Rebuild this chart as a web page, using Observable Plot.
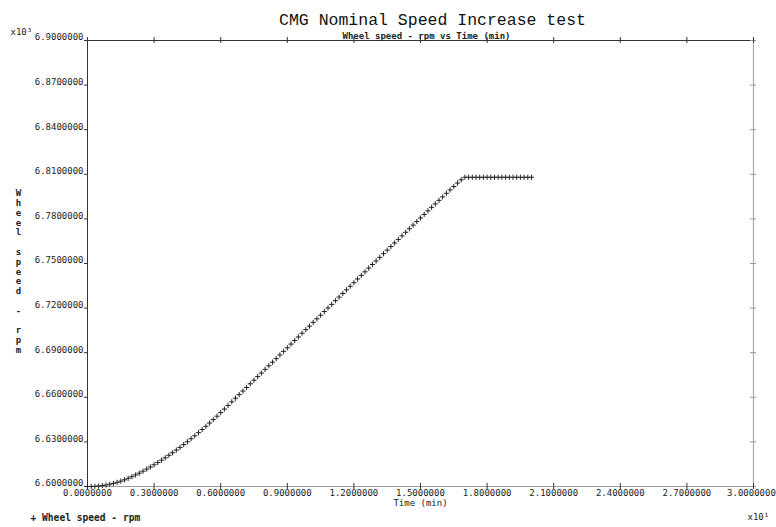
<!DOCTYPE html>
<html><head><meta charset="utf-8">
<script src="https://cdn.jsdelivr.net/npm/d3@7"></script>
<script src="https://cdn.jsdelivr.net/npm/@observablehq/plot@0.6"></script>
<style>body{margin:0;background:#fff} svg{display:block}</style>
</head><body><div id="chart"></div>
<script>
const title = "CMG Nominal Speed Increase test";
const subtitle = "Wheel speed - rpm vs Time (min)";
const xLabel = "Time (min)";
const yLabel = "Wheel speed - rpm";
const legendLabel = "+ Wheel speed - rpm";
const xMultiplier = "x10\u00b9";
const yMultiplier = "x10\u00b3";
const xTicks = [0, 3, 6, 9, 12, 15, 18, 21, 24, 27, 30];
const yTicks = [6600, 6630, 6660, 6690, 6720, 6750, 6780, 6810, 6840, 6870, 6900];
const timeSeconds = [
  0, 10, 20, 30, 40, 50, 60, 70, 80, 90,
  100, 110, 120, 130, 140, 150, 160, 170, 180, 190,
  200, 210, 220, 230, 240, 250, 260, 270, 280, 290,
  300, 310, 320, 330, 340, 350, 360, 370, 380, 390,
  400, 410, 420, 430, 440, 450, 460, 470, 480, 490,
  500, 510, 520, 530, 540, 550, 560, 570, 580, 590,
  600, 610, 620, 630, 640, 650, 660, 670, 680, 690,
  700, 710, 720, 730, 740, 750, 760, 770, 780, 790,
  800, 810, 820, 830, 840, 850, 860, 870, 880, 890,
  900, 910, 920, 930, 940, 950, 960, 970, 980, 990,
  1000, 1010, 1020, 1030, 1040, 1050, 1060, 1070, 1080, 1090,
  1100, 1110, 1120, 1130, 1140, 1150, 1160, 1170, 1180, 1190,
  1200
];
const wheelRpm = [
  6600.0, 6600.0, 6600.1, 6600.3, 6600.6, 6601.0, 6601.5, 6602.1, 6602.8, 6603.6,
  6604.5, 6605.5, 6606.6, 6607.8, 6609.0, 6610.3, 6611.7, 6613.1, 6614.6, 6616.1,
  6617.7, 6619.3, 6621.0, 6622.7, 6624.5, 6626.3, 6628.2, 6630.1, 6632.1, 6634.1,
  6636.2, 6638.3, 6640.5, 6642.7, 6645.0, 6647.3, 6649.7, 6652.1, 6654.5, 6657.0,
  6659.4, 6661.8, 6664.2, 6666.6, 6669.1, 6671.5, 6673.9, 6676.3, 6678.8, 6681.2,
  6683.6, 6686.0, 6688.5, 6690.9, 6693.3, 6695.8, 6698.2, 6700.6, 6703.1, 6705.5,
  6707.9, 6710.4, 6712.8, 6715.2, 6717.7, 6720.1, 6722.5, 6725.0, 6727.4, 6729.8,
  6732.3, 6734.7, 6737.1, 6739.6, 6742.0, 6744.4, 6746.9, 6749.3, 6751.7, 6754.1,
  6756.6, 6759.0, 6761.4, 6763.8, 6766.2, 6768.6, 6771.0, 6773.4, 6775.8, 6778.2,
  6780.6, 6783.0, 6785.4, 6787.8, 6790.1, 6792.5, 6794.8, 6797.2, 6799.5, 6801.8,
  6804.1, 6806.3, 6808.0, 6808.0, 6808.0, 6808.0, 6808.0, 6808.0, 6808.0, 6808.0,
  6808.0, 6808.0, 6808.0, 6808.0, 6808.0, 6808.0, 6808.0, 6808.0, 6808.0, 6808.0,
  6808.0
];
const data = timeSeconds.map((s, i) => ({t: s / 60, rpm: wheelRpm[i]}));

const mono = "'DejaVu Sans Mono', monospace";
const bold = {fontFamily: mono, fontWeight: "bold", fill: "#222"};
const xFmt = d => (d / 10).toFixed(7);

const chart = Plot.plot({
  width: 776, height: 527,
  marginLeft: 87, marginRight: 23, marginTop: 40, marginBottom: 41,
  x: {domain: [0, 30]},
  y: {domain: [6600, 6900]},
  style: {fontFamily: mono, fontSize: "9px", color: "#222", background: "#fff"},
  marks: [
    Plot.ruleX([30], {stroke: "#aaa", strokeWidth: 1.2}),
    Plot.ruleY([6600], {stroke: "#999", strokeWidth: 1.2}),
    Plot.ruleX([0], {stroke: "#333"}),
    Plot.ruleY([6900], {stroke: "#333"}),
    Plot.ruleY(yTicks, {x1: -0.135, x2: 0, stroke: "#333"}),
    Plot.ruleY(yTicks, {x1: 29.865, x2: 30.135, stroke: "#999"}),
    Plot.ruleX(xTicks, {y1: 6898, y2: 6902, stroke: "#333"}),
    Plot.ruleX(xTicks, {y1: 6598, y2: 6602, stroke: "#333"}),
    Plot.axisY({ticks: yTicks, tickSize: 0, tickPadding: 4, dy: -3,
      tickFormat: d => (d / 1000).toFixed(7), label: null}),
    Plot.axisX({ticks: xTicks.slice(0, -1), tickSize: 0, tickPadding: 3,
      tickFormat: xFmt, label: null}),
    Plot.axisX({ticks: xTicks.slice(-1), tickSize: 0, tickPadding: 3, dx: -2,
      tickFormat: xFmt, label: null}),
    Plot.dot(data, {x: "t", y: "rpm", symbol: "plus", r: 1.8, stroke: "#222", strokeWidth: 1}),
    Plot.text([title], {frameAnchor: "top", dx: 12, dy: -27, fontSize: 16.5,
      fontFamily: "'Liberation Mono', monospace", fill: "#111"}),
    Plot.text([subtitle], {frameAnchor: "top", dx: 6, dy: -8, fontSize: 9, ...bold}),
    Plot.text([yLabel], {frameAnchor: "left", dx: -69, dy: 8, textAnchor: "middle",
      text: d => d.split("").join("\n"), lineHeight: 1.09, fontSize: 9, ...bold}),
    Plot.text([xLabel], {frameAnchor: "bottom", dy: 19, fontSize: 9, fill: "#222"}),
    Plot.text([yMultiplier], {frameAnchor: "top-left", dx: -77, dy: -12, textAnchor: "start", fontSize: 9, fill: "#222"}),
    Plot.text([xMultiplier], {frameAnchor: "bottom-right", dx: -6, dy: 33, textAnchor: "start", fontSize: 9, fill: "#222"}),
    Plot.text([legendLabel], {frameAnchor: "bottom-left", dx: -57, dy: 34, textAnchor: "start", fontSize: 9.6, ...bold})
  ]
});
document.getElementById("chart").append(chart);
</script>
</body></html>
